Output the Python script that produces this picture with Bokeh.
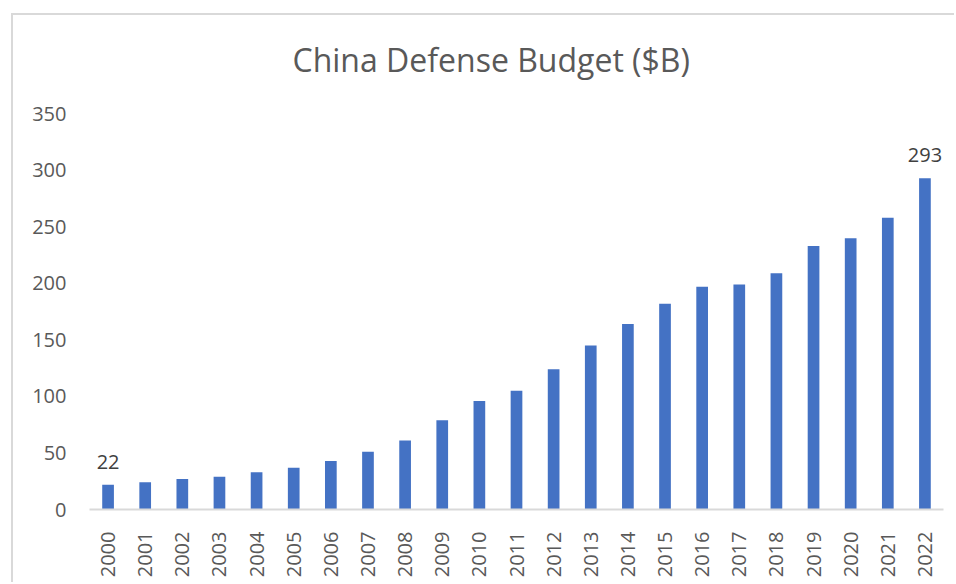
import math
from bokeh.plotting import figure
from bokeh.models import ColumnDataSource, FactorRange, Range1d, Title
from bokeh.core.properties import value
from bokeh.embed import file_html
from bokeh.resources import INLINE

years = [str(y) for y in range(2000, 2023)]
budget = [22, 24, 27, 29, 33, 37, 43, 51, 61, 79, 96, 105, 124, 145, 164,
          182, 197, 199, 209, 233, 240, 258, 293]
label_years = ["2000", "2022"]
label_values = [22, 293]
y_ticks = [0, 50, 100, 150, 200, 250, 300, 350]
title_text = "China Defense Budget ($B)"

FONT = "Open Sans"

src = ColumnDataSource(dict(x=years, y=budget))
lab = ColumnDataSource(dict(x=label_years, y=label_values, t=[str(v) for v in label_values]))

p = figure(width=943, height=569, x_range=FactorRange(*years),
           y_range=Range1d(0, 369.7), output_backend="svg", toolbar_location=None,
           margin=(13, 0, 0, 11),
           styles={"border-left": "2px solid #d9d9d9", "border-top": "2px solid #d9d9d9"},
           min_border_left=76, min_border_right=13, min_border_top=76, min_border_bottom=75)
p.x_range.range_padding = 0
p.outline_line_color = None
p.background_fill_color = "white"
p.border_fill_color = "white"
p.xgrid.grid_line_color = None
p.ygrid.grid_line_color = None

p.vbar(x="x", top="y", width=0.315, source=src, color="#4472C4", line_color=None)
p.text(x="x", y="y", text="t", source=lab, text_align="center", text_baseline="bottom",
       y_offset=-16, text_font=value(FONT), text_font_size="20px", text_color="#404040")

t = Title(text=title_text, align="left", offset=203, text_font=FONT, text_font_size="32px",
          text_font_style="normal", text_color="#595959", standoff=22)
p.add_layout(t, "above")

p.yaxis.ticker = y_ticks
p.yaxis.axis_line_color = None
p.yaxis.major_tick_line_color = None
p.yaxis.minor_tick_line_color = None
p.yaxis.major_label_standoff = 17
p.yaxis.major_label_text_font = FONT
p.yaxis.major_label_text_font_size = "20px"
p.yaxis.major_label_text_color = "#595959"

p.xaxis.axis_line_color = "#d9d9d9"
p.xaxis.axis_line_width = 2
p.xaxis.major_tick_line_color = None
p.xaxis.minor_tick_line_color = None
p.xaxis.major_label_orientation = math.pi / 2
p.xaxis.major_label_standoff = 16
p.xaxis.major_label_text_font = FONT
p.xaxis.major_label_text_font_size = "20px"
p.xaxis.major_label_text_color = "#595959"

open("out.html", "w").write(file_html(p, INLINE))
